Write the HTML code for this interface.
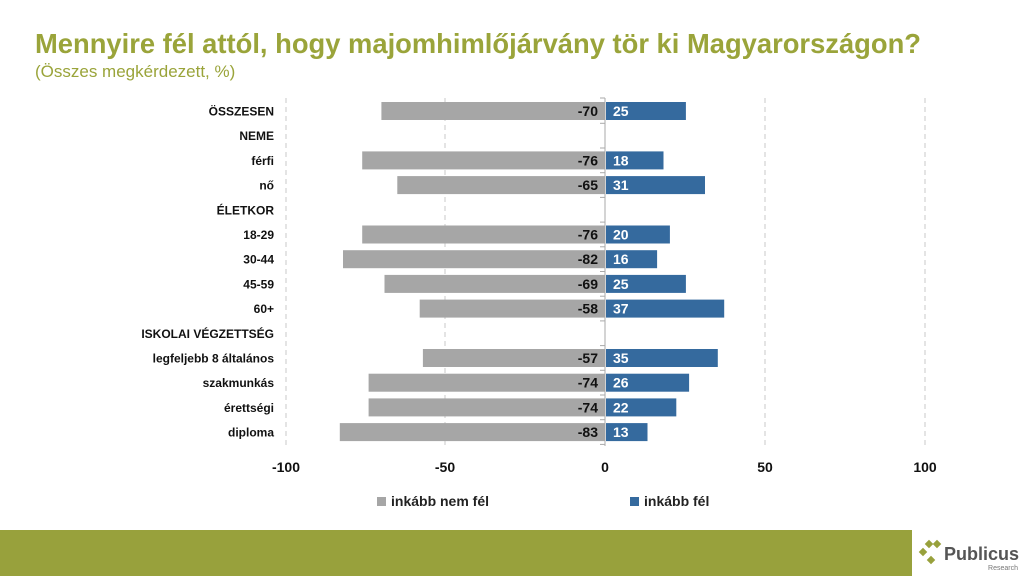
<!DOCTYPE html><html><head><meta charset="utf-8"><style>body{margin:0;width:1024px;height:576px;overflow:hidden;background:#fff;font-family:"Liberation Sans",sans-serif}</style></head><body>
<svg width="1024" height="576" xmlns="http://www.w3.org/2000/svg" font-family="Liberation Sans, sans-serif">
<text x="35" y="53" font-size="28" font-weight="bold" fill="#9aa43a" textLength="886" lengthAdjust="spacingAndGlyphs">Mennyire fél attól, hogy majomhimlőjárvány tör ki Magyarországon?</text>
<text x="35" y="77" font-size="17" fill="#9aa43a">(Összes megkérdezett, %)</text>
<g stroke="#c8c8c8" stroke-dasharray="5,4" stroke-width="1">
<line x1="286" y1="98" x2="286" y2="446"/><line x1="445" y1="98" x2="445" y2="446"/><line x1="765" y1="98" x2="765" y2="446"/><line x1="925" y1="98" x2="925" y2="446"/></g>
<line x1="605" y1="98" x2="605" y2="446" stroke="#aaa"/>
<g stroke="#aaa">
<line x1="600" x2="605" y1="98" y2="98"/><line x1="600" x2="605" y1="123.3" y2="123.3"/><line x1="600" x2="605" y1="148" y2="148"/><line x1="600" x2="605" y1="172.7" y2="172.7"/><line x1="600" x2="605" y1="197.4" y2="197.4"/><line x1="600" x2="605" y1="222.1" y2="222.1"/><line x1="600" x2="605" y1="246.8" y2="246.8"/><line x1="600" x2="605" y1="271.5" y2="271.5"/><line x1="600" x2="605" y1="296.2" y2="296.2"/><line x1="600" x2="605" y1="320.9" y2="320.9"/><line x1="600" x2="605" y1="345.6" y2="345.6"/><line x1="600" x2="605" y1="370.3" y2="370.3"/><line x1="600" x2="605" y1="395" y2="395"/><line x1="600" x2="605" y1="419.7" y2="419.7"/><line x1="600" x2="605" y1="444.4" y2="444.4"/>
</g>
<g fill="#a6a6a6">
<rect x="381.4" y="102" width="223.6" height="18"/>
<rect x="362.2" y="151.4" width="242.8" height="18"/>
<rect x="397.3" y="176.1" width="207.7" height="18"/>
<rect x="362.2" y="225.5" width="242.8" height="18"/>
<rect x="343.0" y="250.2" width="262.0" height="18"/>
<rect x="384.5" y="274.9" width="220.5" height="18"/>
<rect x="419.7" y="299.6" width="185.3" height="18"/>
<rect x="422.9" y="349" width="182.1" height="18"/>
<rect x="368.6" y="373.7" width="236.4" height="18"/>
<rect x="368.6" y="398.4" width="236.4" height="18"/>
<rect x="339.8" y="423.1" width="265.2" height="18"/>
</g>
<g fill="#356a9e">
<rect x="606" y="102" width="79.9" height="18"/>
<rect x="606" y="151.4" width="57.5" height="18"/>
<rect x="606" y="176.1" width="99.0" height="18"/>
<rect x="606" y="225.5" width="63.9" height="18"/>
<rect x="606" y="250.2" width="51.1" height="18"/>
<rect x="606" y="274.9" width="79.9" height="18"/>
<rect x="606" y="299.6" width="118.2" height="18"/>
<rect x="606" y="349" width="111.8" height="18"/>
<rect x="606" y="373.7" width="83.1" height="18"/>
<rect x="606" y="398.4" width="70.3" height="18"/>
<rect x="606" y="423.1" width="41.5" height="18"/>
</g>
<g font-size="12" font-weight="bold" fill="#111" text-anchor="end">
<text x="274" y="115.5">ÖSSZESEN</text><text x="274" y="140.2">NEME</text><text x="274" y="164.9">férfi</text><text x="274" y="189.6">nő</text><text x="274" y="214.3">ÉLETKOR</text><text x="274" y="239">18-29</text><text x="274" y="263.7">30-44</text><text x="274" y="288.4">45-59</text><text x="274" y="313.1">60+</text><text x="274" y="337.8">ISKOLAI VÉGZETTSÉG</text><text x="274" y="362.5">legfeljebb 8 általános</text><text x="274" y="387.2">szakmunkás</text><text x="274" y="411.9">érettségi</text><text x="274" y="436.6">diploma</text>
</g>
<g font-size="14" font-weight="bold" fill="#111" text-anchor="end">
<text x="598" y="116">-70</text><text x="598" y="165.4">-76</text><text x="598" y="190.1">-65</text><text x="598" y="239.5">-76</text><text x="598" y="264.2">-82</text><text x="598" y="288.9">-69</text><text x="598" y="313.6">-58</text><text x="598" y="363">-57</text><text x="598" y="387.7">-74</text><text x="598" y="412.4">-74</text><text x="598" y="437.1">-83</text>
</g>
<g font-size="14" font-weight="bold" fill="#fff">
<text x="613" y="116">25</text><text x="613" y="165.4">18</text><text x="613" y="190.1">31</text><text x="613" y="239.5">20</text><text x="613" y="264.2">16</text><text x="613" y="288.9">25</text><text x="613" y="313.6">37</text><text x="613" y="363">35</text><text x="613" y="387.7">26</text><text x="613" y="412.4">22</text><text x="613" y="437.1">13</text>
</g>
<g font-size="14" font-weight="bold" fill="#111" text-anchor="middle">
<text x="286" y="472">-100</text><text x="445" y="472">-50</text><text x="605" y="472">0</text><text x="765" y="472">50</text><text x="925" y="472">100</text></g>
<rect x="377" y="497" width="9" height="9" fill="#a6a6a6"/><text x="391" y="506" font-size="14" font-weight="bold" fill="#222">inkább nem fél</text>
<rect x="630" y="497" width="9" height="9" fill="#356a9e"/><text x="644" y="506" font-size="14" font-weight="bold" fill="#222">inkább fél</text>
<rect x="0" y="530" width="912" height="46" fill="#98a13c"/>
<g fill="#98a13c">
<rect x="926" y="541" width="6" height="6" transform="rotate(45 929 544)"/>
<rect x="934" y="541" width="6" height="6" transform="rotate(45 937 544)"/>
<rect x="920" y="549" width="6" height="6" transform="rotate(45 923 552)"/>
<rect x="928" y="557" width="6" height="6" transform="rotate(45 931 560)"/>
</g>
<text x="944" y="560" font-size="18" font-weight="bold" fill="#555">Publicus</text>
<text x="1018" y="570" font-size="7" fill="#777" text-anchor="end">Research</text>
</svg></body></html>
